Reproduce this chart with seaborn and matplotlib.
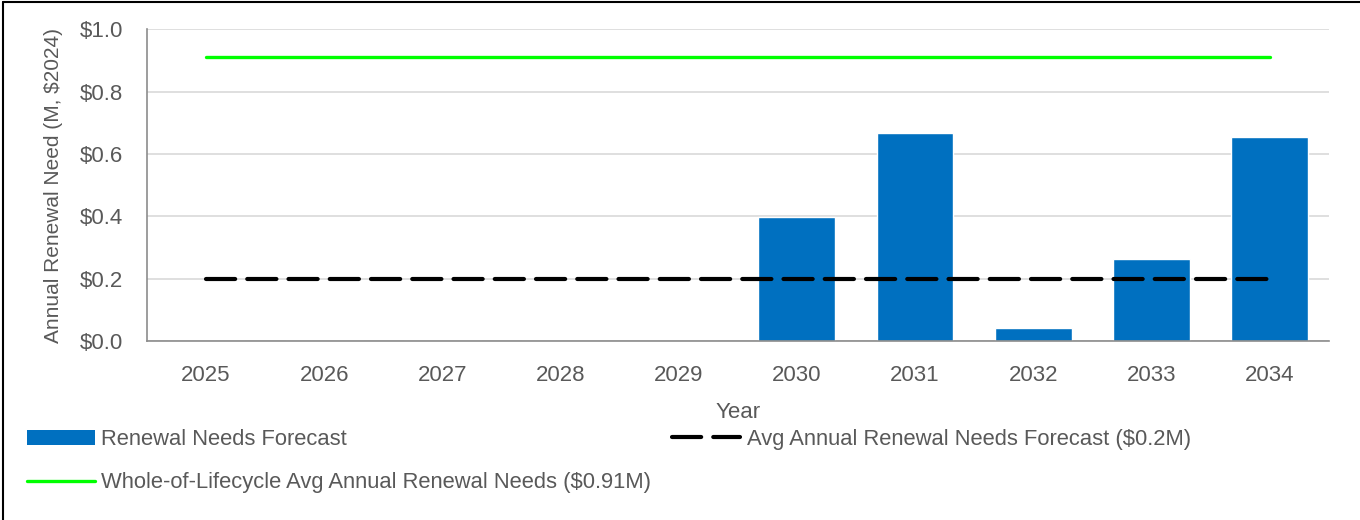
import numpy as np
import matplotlib
matplotlib.use("Agg")
import matplotlib.pyplot as plt
import seaborn as sns
from matplotlib.patches import Patch
from matplotlib.lines import Line2D
from matplotlib.ticker import FuncFormatter

# Annual renewal forecast ($M, 2024 dollars)
years = ["2025", "2026", "2027", "2028", "2029", "2030", "2031", "2032", "2033", "2034"]
renewal_needs = [0.0, 0.0, 0.0, 0.0, 0.0, 0.397, 0.667, 0.042, 0.263, 0.655]
avg_forecast = 0.2
lifecycle_avg = 0.91

bar_label = "Renewal Needs Forecast"
avg_label = "Avg Annual Renewal Needs Forecast ($0.2M)"
life_label = "Whole-of-Lifecycle Avg Annual Renewal Needs ($0.91M)"
x_title = "Year"
y_title = "Annual Renewal Need (M, $2024)"

sns.set_theme(style="white")
plt.rcParams["font.family"] = ["Liberation Sans Narrow", "Liberation Sans", "DejaVu Sans"]
text_color = "#595959"
fs = 16

fig = plt.figure(figsize=(13.6, 5.2), dpi=100)
ax = fig.add_axes([0.108, 0.344, 0.869, 0.600])

sns.barplot(x=years, y=renewal_needs, color="#0070C0", saturation=1,
            width=0.65, ax=ax, zorder=2)

dash_pattern = (7.0, 2.9)
pos = np.arange(len(years))
ax.plot(pos, [lifecycle_avg] * len(years), color="#00FF00", lw=2.4, zorder=3,
        solid_capstyle="round")
dash_line, = ax.plot(pos, [avg_forecast] * len(years), color="black", lw=3.0,
                     zorder=3, dashes=dash_pattern)
dash_line.set_dash_capstyle("round")

ax.set_ylim(0, 1.0)
ax.set_xlim(-0.5, len(years) - 0.5)
ax.set_yticks(np.arange(0, 1.01, 0.2))
ax.yaxis.set_major_formatter(FuncFormatter(lambda v, _: f"${v:.1f}"))
ax.grid(axis="y", color="#d9d9d9", lw=1.2, zorder=0)
ax.set_axisbelow(True)
for side in ["top", "right"]:
    ax.spines[side].set_visible(False)
for side in ["left", "bottom"]:
    ax.spines[side].set_color("#8c8c8c")
    ax.spines[side].set_linewidth(1.2)

ax.tick_params(axis="x", labelsize=fs, colors=text_color, length=0, pad=17)
ax.tick_params(axis="y", labelsize=fs, colors=text_color, length=0, pad=17)
ax.set_xlabel(x_title, fontsize=fs, color=text_color, labelpad=12)
ax.set_ylabel(y_title, fontsize=15, color=text_color, labelpad=12)

leg_dash = Line2D([0], [0], color="black", lw=3.0, dashes=dash_pattern)
leg_dash.set_dash_capstyle("round")
handles = [
    Patch(facecolor="#0070C0", edgecolor="none"),
    Line2D([0], [0], color="#00FF00", lw=2.4),
    leg_dash,
]
labels = [bar_label, life_label, avg_label]
fig.legend(handles, labels, ncol=2, loc="upper left", bbox_to_anchor=(0.005, 0.213),
           frameon=False, fontsize=15.8, labelcolor=text_color, handlelength=3.1,
           handletextpad=0.3, columnspacing=0.97, labelspacing=1.02)

# frame edges along the top and left of the figure
fig.add_artist(Line2D([0.002, 1.0], [0.996, 0.996], transform=fig.transFigure,
                      color="black", lw=1.5))
fig.add_artist(Line2D([0.002, 0.002], [0.0, 0.996], transform=fig.transFigure,
                      color="black", lw=1.5))

fig.savefig("out.png", dpi=100)
